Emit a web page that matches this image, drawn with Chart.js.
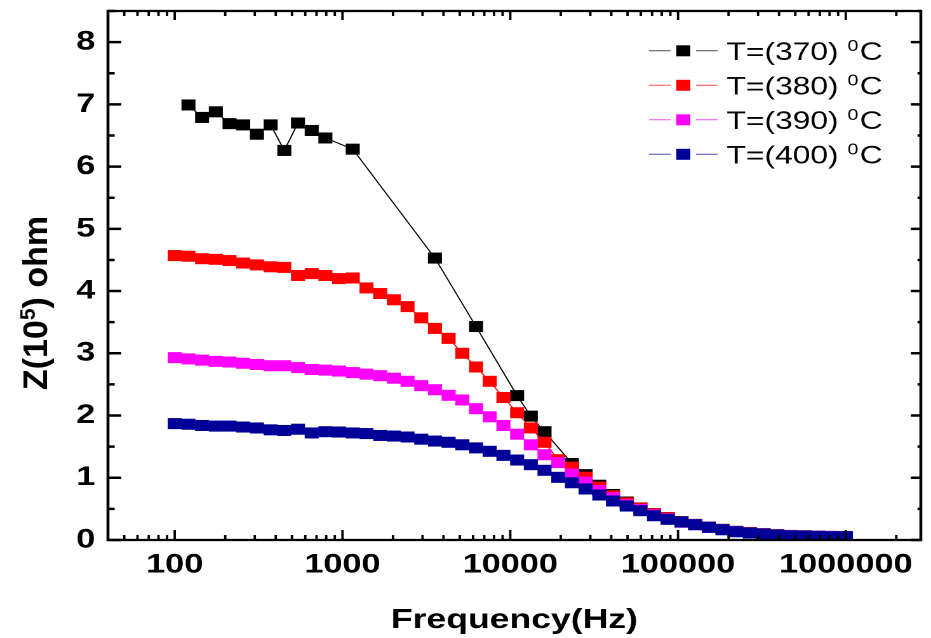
<!DOCTYPE html>
<html>
<head>
<meta charset="utf-8">
<script src="https://cdn.jsdelivr.net/npm/chart.js@4.4.1/dist/chart.umd.min.js"></script>
<style>
	html, body { margin: 0; padding: 0; background: #fff; overflow: hidden; }
	/* the original figure is stretched sideways, so the whole chart is too */
	#wrap { width: 733px; height: 638px; transform: scaleX(1.2701); transform-origin: 0 0; }
</style>
</head>
<body>
<div id="wrap"><canvas id="chartImpedance"></canvas></div>
<script>
var freqHz = [100, 120.7, 145.6, 175.8, 212.1, 256.0, 309.0, 372.8, 449.9, 542.9,
	655.2, 790.7, 954.1, 1151, 1390, 1677, 2024, 2442, 2947, 3556,
	4291, 5180, 6251, 7543, 9103, 10985, 13256, 15997, 19307, 23298,
	28117, 33931, 40947, 49414, 59633, 71969, 86851, 104811, 126484, 152637,
	184214, 222300, 268270, 323746, 390706, 471494, 568987, 686650, 828643, 1000000];

var z370 = [null, 6.99, 6.79, 6.88, 6.69, 6.67, 6.52, 6.67, 6.26, 6.70,
	6.58, 6.46, null, 6.28, null, null, null, null, null, 4.53,
	null, null, 3.43, null, null, 2.32, 1.99, 1.74, null, 1.23,
	1.05, 0.88, 0.73, 0.61, 0.515, 0.425, 0.36, 0.295, 0.251, 0.208,
	0.171, 0.139, 0.118, 0.101, 0.085, 0.073, 0.067, 0.062, 0.058, 0.056];

var z380 = [4.57, 4.56, 4.52, 4.51, 4.49, 4.45, 4.42, 4.39, 4.38, 4.25,
	4.28, 4.25, 4.20, 4.21, 4.05, 3.96, 3.86, 3.75, 3.57, 3.40,
	3.24, 3.00, 2.78, 2.55, 2.29, 2.045, 1.80, 1.57, 1.29, 1.17,
	1.01, 0.85, 0.71, 0.597, 0.511, 0.421, 0.357, 0.292, 0.249, 0.206,
	0.169, 0.137, 0.116, 0.100, 0.084, 0.072, 0.066, 0.061, 0.057, 0.055];

var z390 = [2.93, 2.91, 2.89, 2.87, 2.86, 2.84, 2.82, 2.80, 2.80, 2.77,
	2.74, 2.73, 2.715, 2.69, 2.665, 2.64, 2.60, 2.55, 2.48, 2.415,
	2.325, 2.25, 2.11, 1.98, 1.84, 1.70, 1.53, 1.37, 1.245, 1.06,
	0.93, 0.795, 0.678, 0.565, 0.49, 0.405, 0.341, 0.286, 0.246, 0.203,
	0.167, 0.135, 0.114, 0.098, 0.082, 0.070, 0.065, 0.060, 0.055, 0.054];

var z400 = [1.87, 1.86, 1.84, 1.83, 1.83, 1.815, 1.80, 1.77, 1.76, 1.78,
	1.72, 1.74, 1.735, 1.72, 1.71, 1.68, 1.67, 1.655, 1.62, 1.59,
	1.57, 1.53, 1.48, 1.425, 1.36, 1.285, 1.21, 1.12, 1.007, 0.92,
	0.82, 0.723, 0.627, 0.546, 0.471, 0.39, 0.332, 0.289, 0.246, 0.204,
	0.165, 0.133, 0.112, 0.096, 0.080, 0.069, 0.064, 0.059, 0.053, 0.053];

var seriesNames = ["370", "380", "390", "400"];
var seriesColors = ["#000000", "#ff0000", "#ff00ff", "#000099"];
var xTickValues = [100, 1000, 10000, 100000, 1000000];
var yTickValues = [0, 1, 2, 3, 4, 5, 6, 7, 8];

var FONT = "'Liberation Sans', Arial, sans-serif";
var STRETCH = 1.2701;

function toPoints(values) {
	var pts = [];
	for (var i = 0; i < values.length; i++) {
		if (values[i] !== null) pts.push({ x: freqHz[i], y: values[i] });
	}
	return pts;
}

function makeDataset(idx, values) {
	return {
		label: "T=(" + seriesNames[idx] + ") 0C",
		data: toPoints(values),
		borderColor: seriesColors[idx],
		backgroundColor: seriesColors[idx],
		borderWidth: 1,
		pointStyle: "rect",
		pointRadius: 7.8,
		pointBorderWidth: 0,
		spanGaps: true,
		tension: 0,
		order: 4 - idx
	};
}

// text with a raised part, drawn left to right from x on baseline y
function textParts(ctx, parts, size) {
	var w = 0;
	parts.forEach(function(p) {
		ctx.font = (p.bold ? "bold " : "") + (p.sup ? size * 0.62 : size) + "px " + FONT;
		w += ctx.measureText(p.t).width + (p.gap || 0);
	});
	return w;
}
function drawParts(ctx, parts, size, x, y) {
	parts.forEach(function(p) {
		ctx.font = (p.bold ? "bold " : "") + (p.sup ? size * 0.62 : size) + "px " + FONT;
		ctx.fillText(p.t, x, p.sup ? y - size * 0.37 : y);
		x += ctx.measureText(p.t).width + (p.gap || 0);
	});
}

var frameTicks = {
	id: "frameTicks",
	afterDatasetsDraw: function(chart) {
		var ctx = chart.ctx, a = chart.chartArea;
		var xs = chart.scales.x, ys = chart.scales.y;
		ctx.save();
		ctx.strokeStyle = "#000";
		ctx.lineWidth = 2.3;
		ctx.strokeRect(a.left, a.top, a.right - a.left, a.bottom - a.top);

		ctx.lineWidth = 1.9;
		ctx.beginPath();
		for (var e = 1; e <= 6; e++) {
			for (var m = 1; m <= 9; m++) {
				var v = m * Math.pow(10, e);
				if (v < xs.min || v > xs.max) continue;
				var px = xs.getPixelForValue(v);
				ctx.moveTo(px, a.bottom); ctx.lineTo(px, a.bottom - (m === 1 ? 10 : 5));
				ctx.moveTo(px, a.top); ctx.lineTo(px, a.top + (m === 1 ? 9 : 5));
			}
		}
		ctx.stroke();

		ctx.lineWidth = 2.5;
		ctx.beginPath();
		for (var k = 0; k <= 17; k++) {
			var py = ys.getPixelForValue(k / 2);
			var major = k % 2 === 0;
			ctx.moveTo(a.left, py); ctx.lineTo(a.left + (major ? 10.5 : 5.3), py);
			ctx.moveTo(a.right, py); ctx.lineTo(a.right - (major ? 7.9 : 2.6), py);
		}
		ctx.stroke();
		ctx.restore();
	},
	afterDraw: function(chart) {
		var ctx = chart.ctx;
		ctx.save();
		ctx.fillStyle = "#000";
		ctx.textBaseline = "alphabetic";
		ctx.textAlign = "left";

		// y axis title with the power of ten raised (not stretched in the original)
		var tParts = [{ t: "Z(10", bold: true }, { t: "5", bold: true, sup: true }, { t: ") ohm", bold: true }];
		var tSize = 34;
		var tw = textParts(ctx, tParts, tSize);
		ctx.save();
		ctx.scale(1 / STRETCH, 1);
		ctx.translate(35 + tSize * 0.36, 303);
		ctx.rotate(-Math.PI / 2);
		drawParts(ctx, tParts, tSize, -tw / 2, 0);
		ctx.restore();

		// legend: line, marker, line, label
		var baseY = [60, 94.5, 129, 163.5];
		for (var i = 0; i < seriesNames.length; i++) {
			var y = baseY[i], cy = y - 9.2;
			ctx.strokeStyle = seriesColors[i];
			ctx.globalAlpha = 0.7;
			ctx.lineWidth = 1;
			ctx.beginPath();
			ctx.moveTo(511, cy); ctx.lineTo(528, cy);
			ctx.moveTo(548, cy); ctx.lineTo(565, cy);
			ctx.stroke();
			ctx.globalAlpha = 1;
			ctx.fillStyle = seriesColors[i];
			ctx.fillRect(532.5, cy - 5.5, 11, 11);
			ctx.fillStyle = "#000";
			drawParts(ctx, [
				{ t: "T=(" + seriesNames[i] + ")", gap: 7 },
				{ t: "0", sup: true, gap: 1 },
				{ t: "C" }
			], 25, 572, y);
		}
		ctx.restore();
	}
};

var impedance = {};

impedance.Chart = new Chart(document.getElementById("chartImpedance"), {
	type: "line",
	data: {
		datasets: [
			makeDataset(0, z370),
			makeDataset(1, z380),
			makeDataset(2, z390),
			makeDataset(3, z400)
		]
	},
	plugins: [frameTicks],
	options: {
		responsive: true,
		maintainAspectRatio: false,
		devicePixelRatio: 2,
		animation: false,
		layout: { padding: { left: 0, top: 11, right: 8, bottom: 0 } },
		plugins: {
			legend: { display: false },
			tooltip: { enabled: false }
		},
		scales: {
			x: {
				type: "logarithmic",
				min: 40,
				max: 2800000,
				afterBuildTicks: function(s) {
					s.ticks = xTickValues.map(function(v) { return { value: v }; });
				},
				afterFit: function(s) {
					s.height = 98;
					s.paddingLeft = 0;
					s.paddingRight = 0;
				},
				ticks: {
					autoSkip: false,
					maxRotation: 0,
					padding: 9,
					color: "#000",
					font: { family: FONT, size: 27, weight: "bold" },
					callback: function(v) { return String(v); }
				},
				grid: { display: false, drawTicks: false },
				border: { display: false },
				title: {
					display: true,
					text: "Frequency(Hz)",
					color: "#000",
					font: { family: FONT, size: 28, weight: "bold" },
					padding: { top: 0, bottom: 1 }
				}
			},
			y: {
				min: 0,
				max: 8.5,
				afterBuildTicks: function(s) {
					s.ticks = yTickValues.map(function(v) { return { value: v }; });
				},
				afterFit: function(s) {
					s.width = 85;
					s.paddingTop = 0;
					s.paddingBottom = 0;
				},
				ticks: {
					padding: 10,
					color: "#000",
					font: { family: FONT, size: 27, weight: "bold" }
				},
				grid: { display: false, drawTicks: false },
				border: { display: false }
			}
		}
	}
});
</script>
</body>
</html>
